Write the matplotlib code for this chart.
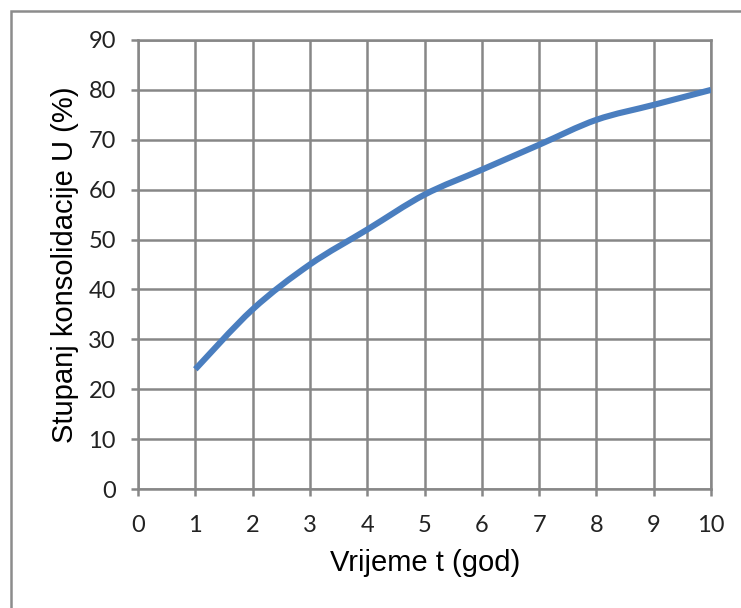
import numpy as np
import matplotlib.pyplot as plt
from matplotlib.path import Path
from matplotlib.patches import PathPatch, Rectangle

# data
t_god = [1, 2, 3, 4, 5, 6, 7, 8, 9, 10]
U_pct = [24, 36, 45, 52, 59, 64, 69, 74, 77, 80]
x_ticks = list(range(0, 11))
y_ticks = list(range(0, 91, 10))

grid_col = '#878787'
line_col = '#4A7EBF'

fig = plt.figure(figsize=(7.41, 6.08), dpi=100)
ax = fig.add_axes([138/741, 1-489/608, 573/741, 449/608])

# smoothed line like excel (bezier through the points)
x = np.array(t_god, dtype=float)
y = np.array(U_pct, dtype=float)
verts = [(x[0], y[0])]
codes = [Path.MOVETO]
n = len(x)
for i in range(n-1):
    p0 = np.array([x[max(i-1, 0)], y[max(i-1, 0)]])
    p1 = np.array([x[i], y[i]])
    p2 = np.array([x[i+1], y[i+1]])
    p3 = np.array([x[min(i+2, n-1)], y[min(i+2, n-1)]])
    c1 = p1 + (p2 - p0) / 6
    c2 = p2 - (p3 - p1) / 6
    verts += [tuple(c1), tuple(c2), tuple(p2)]
    codes += [Path.CURVE4]*3
ax.add_patch(PathPatch(Path(verts, codes), facecolor='none', edgecolor=line_col,
                       lw=4.4, capstyle='butt', zorder=3))

ax.set_xlim(0, 10)
ax.set_ylim(0, 90)
ax.set_xticks(x_ticks)
ax.set_yticks(y_ticks)
ax.grid(True, color=grid_col, lw=1.8)
ax.set_axisbelow(True)
for s in ax.spines.values():
    s.set_color(grid_col)
    s.set_linewidth(1.8)
ax.tick_params(colors=grid_col, width=1.8, length=5, labelcolor='#222222',
               labelsize=17)
ax.tick_params(axis='x', pad=14)
ax.tick_params(axis='y', pad=11)
for lab in ax.get_xticklabels() + ax.get_yticklabels():
    lab.set_family('Lato')

ax.set_xlabel('Vrijeme t (god)', fontsize=21, family='Liberation Sans')
ax.set_ylabel('Stupanj konsolidacije U (%)', fontsize=21, family='Liberation Sans')
ax.xaxis.set_label_coords((425-138)/573, (489-549)/449)
ax.yaxis.set_label_coords((79-138)/573, (489-265)/449)

# outer chart border
fig.patches.append(Rectangle((11/741, -0.02), 1.0, 1-11/608+0.02, transform=fig.transFigure,
                             fill=False, edgecolor='#8c8c8c', lw=1.8))

fig.savefig('out.png', dpi=100)
